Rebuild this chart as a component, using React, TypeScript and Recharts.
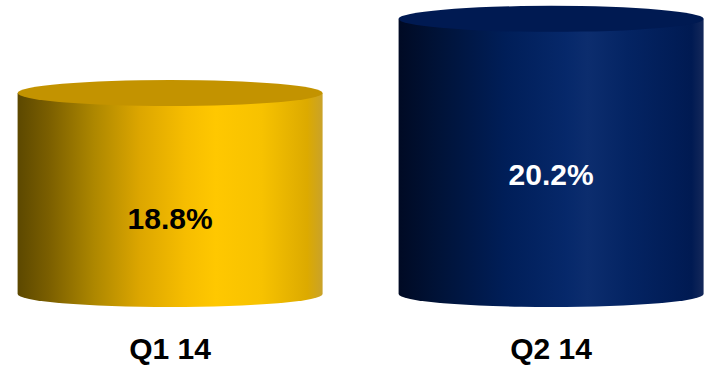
import React from "react";
import { BarChart, Bar, XAxis, YAxis, LabelList } from "recharts";

const categories = ["Q1 14", "Q2 14"];
const values = [18.8, 20.2];
const valueLabels = ["18.8%", "20.2%"];
const labelColors = ["#000000", "#ffffff"];

const data = categories.map((c, i) => ({ name: c, value: values[i], label: valueLabels[i] }));

const palettes = [
  {
    top: "#c39300",
    stops: [
      ["0%", "#5c4800"],
      ["10%", "#7a5e00"],
      ["25%", "#ad8700"],
      ["40%", "#dca600"],
      ["55%", "#f6bd00"],
      ["65%", "#ffc800"],
      ["80%", "#f7c200"],
      ["95%", "#dcaa00"],
      ["100%", "#c9a22a"],
    ],
  },
  {
    top: "#001a52",
    stops: [
      ["0%", "#000a24"],
      ["12%", "#001236"],
      ["35%", "#001e58"],
      ["55%", "#06286a"],
      ["62%", "#0c2d6e"],
      ["75%", "#042463"],
      ["96%", "#001a52"],
      ["100%", "#14285a"],
    ],
  },
];

const FONT = "'Liberation Sans', Arial, sans-serif";
const RY = 13;

const Cylinder = (props: any) => {
  const { x, y, width, height } = props;
  const idx = props.index ?? categories.indexOf(props.payload?.name);
  const p = palettes[idx] || palettes[0];
  const rx = width / 2;
  const cx = x + rx;
  const gid = `cyl-grad-${idx}`;
  const d = `M ${x},${y} L ${x},${y + height} A ${rx},${RY} 0 0 0 ${x + width},${y + height} L ${x + width},${y} Z`;
  return (
    <g>
      <defs>
        <linearGradient id={gid} x1="0" y1="0" x2="1" y2="0">
          {p.stops.map(([o, c]) => (
            <stop key={o} offset={o} stopColor={c} />
          ))}
        </linearGradient>
      </defs>
      <path d={d} fill={`url(#${gid})`} />
      <ellipse cx={cx} cy={y} rx={rx} ry={RY} fill={p.top} />
    </g>
  );
};

const ValueLabel = (props: any) => {
  const { x, y, width, height, index, value } = props;
  return (
    <text
      x={x + width / 2}
      y={y + height / 2 + 16 + 0.095 * y}
      textAnchor="middle"
      dominantBaseline="central"
      fontFamily={FONT}
      fontWeight="bold"
      fontSize={30}
      fill={labelColors[index] ?? "#000"}
    >
      {value}
    </text>
  );
};

const CategoryTick = (props: any) => {
  const { x, y, payload } = props;
  return (
    <text
      x={x}
      y={y + 65}
      textAnchor="middle"
      fontFamily={FONT}
      fontWeight="bold"
      fontSize={30}
      fill="#000"
    >
      {payload.value}
    </text>
  );
};

export default function App() {
  return (
    <div style={{ position: "absolute", left: 0, top: 0, width: 704, height: 365, background: "#fff" }}>
      <BarChart
        width={704}
        height={365}
        data={data}
        margin={{ top: 3, right: -37.5, bottom: 0, left: -20.5 }}
        barCategoryGap="10%"
      >
        <XAxis
          dataKey="name"
          axisLine={false}
          tickLine={false}
          tickSize={0}
          tickMargin={0}
          height={71}
          interval={0}
          tick={<CategoryTick />}
        />
        <YAxis hide domain={[15, 20.5]} type="number" />
        <Bar dataKey="value" isAnimationActive={false} shape={<Cylinder />}>
          <LabelList dataKey="label" content={<ValueLabel />} />
        </Bar>
      </BarChart>
    </div>
  );
}
